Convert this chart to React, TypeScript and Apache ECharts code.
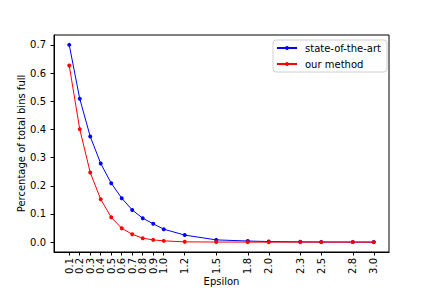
import React, { useEffect, useRef } from "react";
import * as echarts from "echarts";

const epsilon = [0.1, 0.2, 0.3, 0.4, 0.5, 0.6, 0.7, 0.8, 0.9, 1.0, 1.2, 1.5, 1.8, 2.0, 2.3, 2.5, 2.8, 3.0];
const stateOfTheArt = [0.70, 0.509, 0.375, 0.279, 0.209, 0.156, 0.114, 0.085, 0.065, 0.046, 0.025, 0.008, 0.004, 0.002, 0.001, 0.0005, 0.0003, 0.0002];
const ourMethod = [0.627, 0.401, 0.247, 0.152, 0.088, 0.049, 0.028, 0.014, 0.008, 0.0045, 0.001, 0.0003, 0.0001, 0.0, 0.0, 0.0, 0.0, 0.0];
const yTicks = [0, 0.1, 0.2, 0.3, 0.4, 0.5, 0.6, 0.7];
const seriesNames = ["state-of-the-art", "our method"];

const FONT = "DejaVu Sans";

export default function App() {
  const ref = useRef<HTMLDivElement>(null);
  useEffect(() => {
    document.body.style.margin = "0";
    const chart = echarts.init(ref.current!, null, { renderer: "svg" });
    const pair = (ys: number[]) => epsilon.map((x, i) => [x, ys[i]]);
    chart.setOption({
      animation: false,
      backgroundColor: "#fff",
      grid: {
        left: 54,
        right: 43,
        top: 35,
        bottom: 36,
        containLabel: false,
        outerBoundsMode: "none",
        show: true,
        borderColor: "#000",
        borderWidth: 1,
        backgroundColor: "transparent",
      },
      legend: {
        orient: "vertical",
        left: 273,
        top: 40,
        padding: [2, 6, 2, 3],
        itemGap: 4,
        itemWidth: 20,
        itemHeight: 5,
        borderColor: "#d0d0d0",
        borderWidth: 1,
        borderRadius: 3,
        backgroundColor: "rgba(255,255,255,0.8)",
        textStyle: { fontFamily: FONT, fontSize: 10, color: "#000", padding: [0, 0, 0, 3], lineHeight: 12, height: 12 },
        data: seriesNames,
      },
      xAxis: {
        type: "value",
        min: -0.045,
        max: 3.145,
        name: "Epsilon",
        nameLocation: "middle",
        nameGap: 24,
        nameMoveOverlap: false,
        nameTextStyle: { fontFamily: FONT, fontSize: 10, color: "#000" },
        axisLine: { show: true, onZero: false, lineStyle: { color: "#000", width: 1 } },
        axisTick: { show: true, length: 3.5, customValues: epsilon, lineStyle: { color: "#000" } },
        axisLabel: {
          customValues: epsilon,
          rotate: 90,
          margin: 6,
          fontFamily: FONT,
          fontSize: 10,
          color: "#000",
          formatter: (v: number) => v.toFixed(1),
        },
        splitLine: { show: false },
      },
      yAxis: {
        type: "value",
        min: -0.035,
        max: 0.735,
        name: "Percentage of total bins full",
        nameLocation: "middle",
        nameGap: 28,
        nameMoveOverlap: false,
        nameTextStyle: { fontFamily: FONT, fontSize: 10, color: "#000" },
        axisLine: { show: true, onZero: false, lineStyle: { color: "#000", width: 1 } },
        axisTick: { show: true, length: 3.5, customValues: yTicks, lineStyle: { color: "#000" } },
        axisLabel: {
          customValues: yTicks,
          margin: 8,
          fontFamily: FONT,
          fontSize: 10,
          color: "#000",
          formatter: (v: number) => v.toFixed(1),
        },
        splitLine: { show: false },
      },
      series: [
        {
          name: seriesNames[0],
          type: "line",
          data: pair(stateOfTheArt),
          symbol: "circle",
          symbolSize: 4,
          showSymbol: true,
          lineStyle: { color: "#0000ff", width: 1 },
          itemStyle: { color: "#0000ff" },
        },
        {
          name: seriesNames[1],
          type: "line",
          data: pair(ourMethod),
          symbol: "circle",
          symbolSize: 4,
          showSymbol: true,
          lineStyle: { color: "#ff0000", width: 1 },
          itemStyle: { color: "#ff0000" },
        },
      ],
    });
    return () => chart.dispose();
  }, []);
  return (
    <div
      ref={ref}
      style={{ position: "absolute", left: 0, top: 0, width: 432, height: 288 }}
    />
  );
}
